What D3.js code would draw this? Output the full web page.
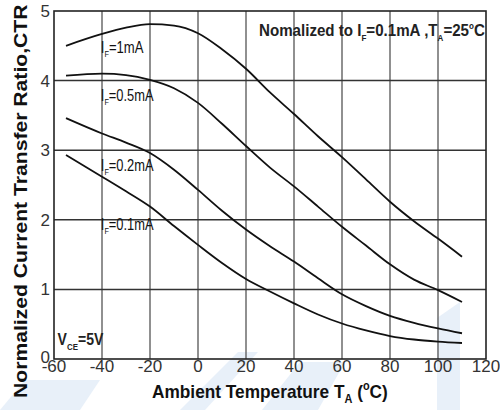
<!DOCTYPE html>
<html>
<head>
<meta charset="utf-8">
<script src="https://cdn.jsdelivr.net/npm/d3@7"></script>
<style>
  body { margin: 0; background: #fff; }
  svg text { font-family: "Liberation Sans", Arial, sans-serif; }
</style>
</head>
<body>
<div id="chart"></div>
<script>
// values
const temps = [-55, -40, -30, -20, -10, 0, 10, 20, 30, 40, 50, 60, 70, 80, 90, 100, 110];
const ctr1mA   = [4.50, 4.67, 4.76, 4.81, 4.79, 4.68, 4.45, 4.17, 3.83, 3.52, 3.20, 2.90, 2.58, 2.26, 1.98, 1.73, 1.47];
const ctr05mA  = [4.07, 4.10, 4.08, 4.01, 3.89, 3.68, 3.38, 3.06, 2.75, 2.48, 2.19, 1.90, 1.63, 1.36, 1.14, 0.99, 0.82];
const ctr02mA  = [3.46, 3.24, 3.11, 2.96, 2.72, 2.43, 2.13, 1.86, 1.62, 1.40, 1.16, 0.93, 0.76, 0.62, 0.52, 0.44, 0.37];
const ctr01mA  = [2.93, 2.62, 2.41, 2.19, 1.91, 1.64, 1.38, 1.15, 0.97, 0.80, 0.64, 0.51, 0.41, 0.33, 0.28, 0.25, 0.23];
const seriesNames = ["1mA", "0.5mA", "0.2mA", "0.1mA"];
const xTicks = [-60, -40, -20, 0, 20, 40, 60, 80, 100, 120];
const yTicks = [0, 1, 2, 3, 4, 5];

const width = 500, height = 410;
const margin = {top: 11, right: 14, bottom: 51, left: 54};

const svg = d3.select("#chart").append("svg")
  .attr("width", width)
  .attr("height", height);

// squeeze a text horizontally so it looks like the narrow face in the original
function narrow(g, px, py, w) {
  const bw = g.node().getBBox().width;
  g.attr("transform", `translate(${px},${py}) scale(${w / bw},1)`);
}

// faint watermark shapes behind the plot
const wm = svg.append("g").attr("fill", "#e8f0f9");
[[0, 410, 25, 380, 100, 380, 80, 410], [180, 410, 238, 352, 258, 352, 205, 410],
 [262, 410, 300, 362, 345, 362, 318, 410], [437, 410, 437, 318, 460, 302, 460, 410]]
  .forEach(p => {
    wm.append("polygon").attr("points", d3.range(0, p.length, 2).map(i => p[i] + "," + p[i + 1]).join(" "));
  });

const x = d3.scaleLinear().domain([-60, 120]).range([margin.left, width - margin.right]);
const y = d3.scaleLinear().domain([0, 5]).range([height - margin.bottom, margin.top]);

// grid
svg.append("g")
  .selectAll("line")
  .data(xTicks.slice(1, -1))
  .join("line")
  .attr("x1", d => x(d)).attr("x2", d => x(d))
  .attr("y1", y(0)).attr("y2", y(5))
  .attr("stroke", "#6b6b6b").attr("stroke-width", 1.5);

svg.append("g")
  .selectAll("line")
  .data(yTicks.slice(1, -1))
  .join("line")
  .attr("x1", x(-60)).attr("x2", x(120))
  .attr("y1", d => y(d)).attr("y2", d => y(d))
  .attr("stroke", "#333").attr("stroke-width", 1.5);

// frame
svg.append("rect")
  .attr("x", x(-60)).attr("y", y(5))
  .attr("width", x(120) - x(-60)).attr("height", y(0) - y(5))
  .attr("fill", "none").attr("stroke", "#222").attr("stroke-width", 1.6);

// tick labels
svg.append("g")
  .selectAll("text")
  .data(xTicks)
  .join("text")
  .attr("x", d => x(d))
  .attr("y", y(0) + 13)
  .attr("text-anchor", "middle")
  .attr("font-size", 17)
  .attr("fill", "#333")
  .text(d => d);

svg.append("g")
  .selectAll("text")
  .data(yTicks)
  .join("text")
  .attr("x", x(-60) - 4)
  .attr("y", d => y(d) + (d === 0 ? 4 : 6))
  .attr("text-anchor", "end")
  .attr("font-size", 17)
  .attr("fill", "#333")
  .text(d => d);

// curves
const series = [ctr1mA, ctr05mA, ctr02mA, ctr01mA];
const line = d3.line()
  .x((d, i) => x(temps[i]))
  .y(d => y(d))
  .curve(d3.curveMonotoneX);

svg.append("g")
  .selectAll("path")
  .data(series)
  .join("path")
  .attr("d", d => line(d))
  .attr("fill", "none")
  .attr("stroke", "#111")
  .attr("stroke-width", 1.8);

// curve labels
const labelPos = [[-40.5, 4.40], [-40.5, 3.70], [-40.5, 2.70], [-40.5, 1.85]];
const labelLen = [43, 53, 53, 53];
seriesNames.forEach((name, i) => {
  const g = svg.append("g");
  const t = g.append("text")
    .attr("font-size", 16)
    .attr("fill", "#111");
  t.append("tspan").text("I");
  t.append("tspan").attr("font-size", 9).attr("dy", 4).text("F");
  t.append("tspan").attr("dy", -4).text("=" + name);
  narrow(g, x(labelPos[i][0]), y(labelPos[i][1]), labelLen[i]);
});

// normalization note
const ng = svg.append("g");
const note = ng.append("text")
  .attr("font-size", 17)
  .attr("font-weight", "bold")
  .attr("fill", "#222");
note.append("tspan").text("Nomalized to I");
note.append("tspan").attr("font-size", 9).attr("dy", 5).text("F");
note.append("tspan").attr("dy", -5).text("=0.1mA ,T");
note.append("tspan").attr("font-size", 9).attr("dy", 5).text("A");
note.append("tspan").attr("dy", -5).text("=25");
note.append("tspan").attr("font-size", 9).attr("dy", -7).text("o");
note.append("tspan").attr("dy", 7).text("C");
narrow(ng, 259, 36, 226);

// Vce note
const vg = svg.append("g");
const vce = vg.append("text")
  .attr("font-size", 16)
  .attr("font-weight", "bold")
  .attr("fill", "#222");
vce.append("tspan").text("V");
vce.append("tspan").attr("font-size", 9).attr("dy", 5).text("CE");
vce.append("tspan").attr("dy", -5).text("=5V");
narrow(vg, x(-58.5), y(0.2), 46);

// axis titles
const xg = svg.append("g");
const xt = xg.append("text")
  .attr("font-size", 19)
  .attr("font-weight", "bold")
  .attr("fill", "#111");
xt.append("tspan").text("Ambient Temperature T");
xt.append("tspan").attr("font-size", 12).attr("dy", 5).text("A");
xt.append("tspan").attr("dy", -5).text(" (");
xt.append("tspan").attr("font-size", 12).attr("dy", -8).text("o");
xt.append("tspan").attr("dy", 8).text("C)");
narrow(xg, 152, 398, 236);

const yg = svg.append("g");
yg.append("text")
  .attr("font-size", 19)
  .attr("font-weight", "bold")
  .attr("fill", "#111")
  .text("Normalized Current Transfer Ratio,CTR");
const yw = yg.node().getBBox().width;
yg.attr("transform", `translate(27,398) rotate(-90) scale(${394 / yw},1)`);
</script>
</body>
</html>
